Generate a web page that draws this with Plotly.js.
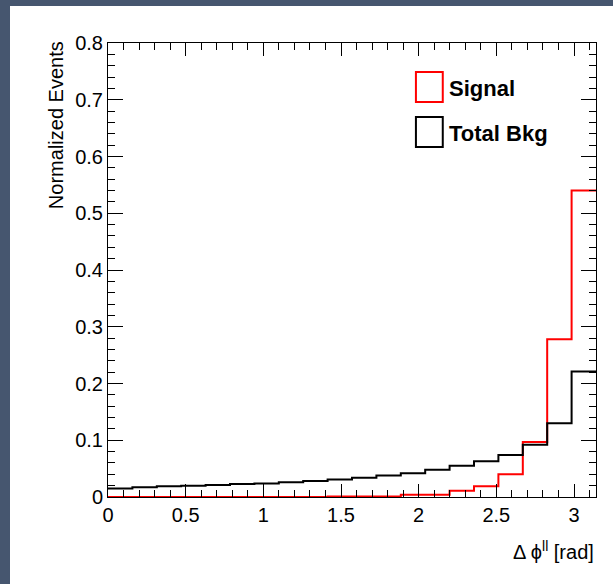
<!DOCTYPE html>
<html>
<head>
<meta charset="utf-8">
<script src="https://cdn.plot.ly/plotly-3.0.1.min.js"></script>
<style>
  html, body { margin: 0; padding: 0; background: #46566f; width: 613px; height: 584px; overflow: hidden; }
  #chart { position: absolute; left: 10px; top: 6px; width: 603px; height: 578px; background: #ffffff; }
</style>
</head>
<body>
<div id="chart"></div>
<script>
// Bin edges of Δφ_ll (20 bins from 0 to π)
const binEdges = [0.0000, 0.1571, 0.3142, 0.4712, 0.6283, 0.7854, 0.9425, 1.0996, 1.2566, 1.4137,
                  1.5708, 1.7279, 1.8850, 2.0420, 2.1991, 2.3562, 2.5133, 2.6704, 2.8274, 2.9845, 3.1416];

// Normalized event yields per bin
const signalValues = [0.000, 0.000, 0.000, 0.000, 0.000, 0.000, 0.000, 0.000, 0.000, 0.001,
                      0.001, 0.001, 0.004, 0.004, 0.011, 0.019, 0.040, 0.097, 0.278, 0.540];
const bkgValues    = [0.015, 0.017, 0.019, 0.020, 0.021, 0.023, 0.024, 0.026, 0.028, 0.031,
                      0.034, 0.038, 0.042, 0.048, 0.055, 0.063, 0.074, 0.092, 0.130, 0.221];

const seriesNames = ["Signal", "Total Bkg"];
const seriesColors = ["#ff0000", "#000000"];

const xTickVals = [0, 0.5, 1, 1.5, 2, 2.5, 3];
const yTickVals = [0, 0.1, 0.2, 0.3, 0.4, 0.5, 0.6, 0.7, 0.8];

function stepTrace(vals, name, color) {
  return {
    type: "scatter", mode: "lines", name: name,
    x: binEdges.slice(),
    y: vals.concat([vals[vals.length - 1]]),
    line: { shape: "hv", color: color, width: 2 },
    hoverinfo: "skip", showlegend: false
  };
}

const traces = [
  stepTrace(signalValues, seriesNames[0], seriesColors[0]),
  stepTrace(bkgValues, seriesNames[1], seriesColors[1])
];

const font = { family: "Liberation Sans, Arial, Helvetica, sans-serif", color: "#000000" };

const layout = {
  width: 603, height: 578,
  margin: { l: 98, r: 17, t: 37, b: 87, pad: 0 },
  paper_bgcolor: "#ffffff", plot_bgcolor: "#ffffff",
  font: Object.assign({ size: 20 }, font),
  showlegend: false,
  xaxis: {
    range: [0, Math.PI], tickvals: xTickVals, ticktext: xTickVals.map(String),
    ticks: "inside", ticklen: 13, tickwidth: 1, tickcolor: "#000",
    showline: true, linecolor: "#000", linewidth: 1, mirror: "allticks",
    showgrid: false, zeroline: false,
    minor: { dtick: 0.1, tick0: 0, ticks: "inside", ticklen: 7, tickwidth: 1, tickcolor: "#000", showgrid: false },
    tickfont: Object.assign({ size: 20 }, font)
  },
  yaxis: {
    range: [0, 0.8], tickvals: yTickVals, ticktext: yTickVals.map(String),
    ticks: "inside", ticklen: 15, tickwidth: 1, tickcolor: "#000",
    showline: true, linecolor: "#000", linewidth: 1, mirror: "allticks",
    showgrid: false, zeroline: false,
    minor: { dtick: 0.02, tick0: 0, ticks: "inside", ticklen: 7, tickwidth: 1, tickcolor: "#000", showgrid: false },
    tickfont: Object.assign({ size: 20 }, font)
  },
  shapes: [
    { type: "rect", xref: "paper", yref: "paper", x0: 0.631, x1: 0.686, y0: 0.870, y1: 0.936,
      line: { color: seriesColors[0], width: 2 }, fillcolor: "rgba(0,0,0,0)" },
    { type: "rect", xref: "paper", yref: "paper", x0: 0.631, x1: 0.686, y0: 0.771, y1: 0.837,
      line: { color: seriesColors[1], width: 2 }, fillcolor: "rgba(0,0,0,0)" }
  ],
  annotations: [
    { xref: "paper", yref: "paper", x: 0.694, y: 0.900, xanchor: "left", yanchor: "middle",
      text: "<b>" + seriesNames[0] + "</b>", showarrow: false, font: Object.assign({ size: 22 }, font) },
    { xref: "paper", yref: "paper", x: 0.694, y: 0.801, xanchor: "left", yanchor: "middle",
      text: "<b>" + seriesNames[1] + "</b>", showarrow: false, font: Object.assign({ size: 22 }, font) },
    { xref: "paper", yref: "paper", x: 1.0, y: -0.117, xanchor: "right", yanchor: "middle",
      text: "Δ ϕ<sup>ll</sup> [rad]", showarrow: false, font: Object.assign({ size: 20 }, font) },
    { xref: "paper", yref: "paper", x: -0.105, y: 1.008, xanchor: "center", yanchor: "top",
      textangle: -90, text: "Normalized Events", showarrow: false, font: Object.assign({ size: 20 }, font) }
  ]
};

Plotly.newPlot("chart", traces, layout, { displayModeBar: false, staticPlot: true });
</script>
</body>
</html>
